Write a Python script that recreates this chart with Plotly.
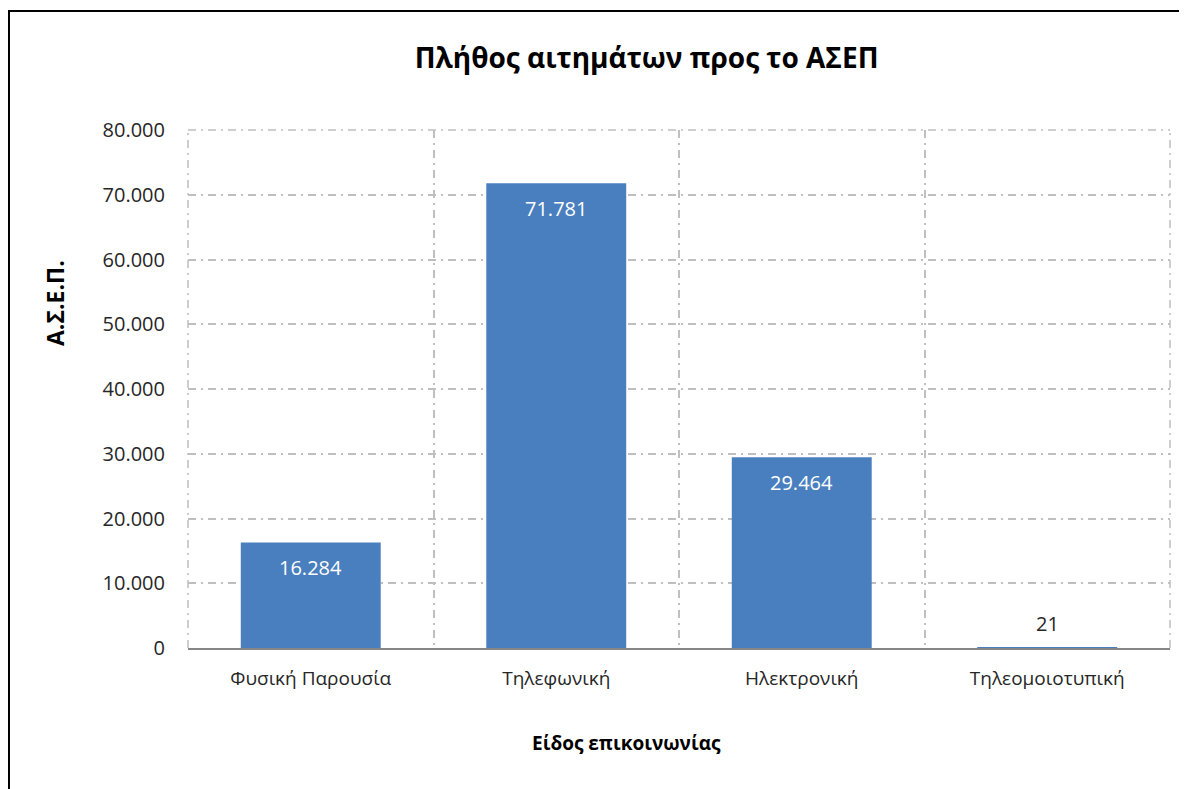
import plotly.graph_objects as go

categories = ["Φυσική Παρουσία", "Τηλεφωνική", "Ηλεκτρονική", "Τηλεομοιοτυπική"]
values = [16284, 71781, 29464, 21]
y_ticks = [0, 10000, 20000, 30000, 40000, 50000, 60000, 70000, 80000]

FONT = "Open Sans, Noto Sans, DejaVu Sans, sans-serif"
BAR = "#4A7FBF"
GRID = "#BFBFBF"
DASH = "8px,5px,2px,5px"

fig = go.Figure()
fig.add_trace(go.Bar(
    x=categories, y=values,
    marker=dict(color=BAR, line=dict(width=0)),
    width=0.57,
    hoverinfo="skip",
))

# data labels: inside end for large bars, above for tiny one
for c, v in zip(categories, values):
    inside = v > 5000
    fig.add_annotation(
        x=c, y=v, xref="x", yref="y",
        text=f"{v:,}".replace(",", "."),
        showarrow=False,
        yshift=-25 if inside else 24,
        font=dict(family=FONT, size=20, color="white" if inside else "#262626"),
    )

# axis titles (placed as in the reference, off-centre)
fig.add_annotation(
    x=0.447, y=(648 - 743) / 518, xref="paper", yref="paper",
    xanchor="center", yanchor="middle",
    text="<b>Είδος επικοινωνίας</b>",
    showarrow=False, font=dict(family=FONT, size=19, color="black"),
)
fig.add_annotation(
    x=-0.1354, y=0.666, xref="paper", yref="paper",
    xanchor="center", yanchor="middle",
    text="<b>Α.Σ.Ε.Π.</b>",
    textangle=-90, showarrow=False, font=dict(family=FONT, size=23, color="black"),
)

fig.update_layout(
    width=1187, height=789,
    separators=",.",
    paper_bgcolor="white", plot_bgcolor="white",
    margin=dict(l=180, r=25, t=122, b=149),
    showlegend=False,
    title=dict(text="<b>Πλήθος αιτημάτων προς το ΑΣΕΠ</b>",
               x=0.538, xanchor="center", y=0.9366, yanchor="middle",
               font=dict(family=FONT, size=28, color="black")),
    font=dict(family=FONT, color="#262626"),
)

fig.update_xaxes(
    type="category",
    range=[-0.5, 3.5],
    tickson="boundaries",
    showgrid=True, gridcolor=GRID, gridwidth=1.5, griddash=DASH,
    showline=True, linecolor="#868686", linewidth=2,
    ticks="", ticklabelstandoff=12,
    tickfont=dict(family=FONT, size=19, color="#262626"),
    zeroline=False,
)
fig.update_yaxes(
    range=[0, 80000],
    tickvals=y_ticks, tickformat=",d",
    showgrid=True, gridcolor=GRID, gridwidth=1.5, griddash=DASH,
    showline=False, zeroline=False,
    ticks="", ticklabelstandoff=22,
    tickfont=dict(family=FONT, size=20, color="#262626"),
)

# plot-area edge grid lines (top, left, right)
for x0, x1, y0, y1 in [(0, 1, 1, 1), (0, 0, 0, 1), (1, 1, 0, 1)]:
    fig.add_shape(type="line", xref="paper", yref="paper",
                  x0=x0, x1=x1, y0=y0, y1=y1,
                  line=dict(color=GRID, width=1.5, dash=DASH), layer="below")

# outer chart border (left and top edges visible)
fig.add_shape(type="rect", xref="paper", yref="paper",
              x0=-0.1823, x1=1.2, y0=-0.6, y1=1.2297,
              line=dict(color="black", width=2), fillcolor="rgba(0,0,0,0)",
              layer="above")

fig.write_html("out.html")
